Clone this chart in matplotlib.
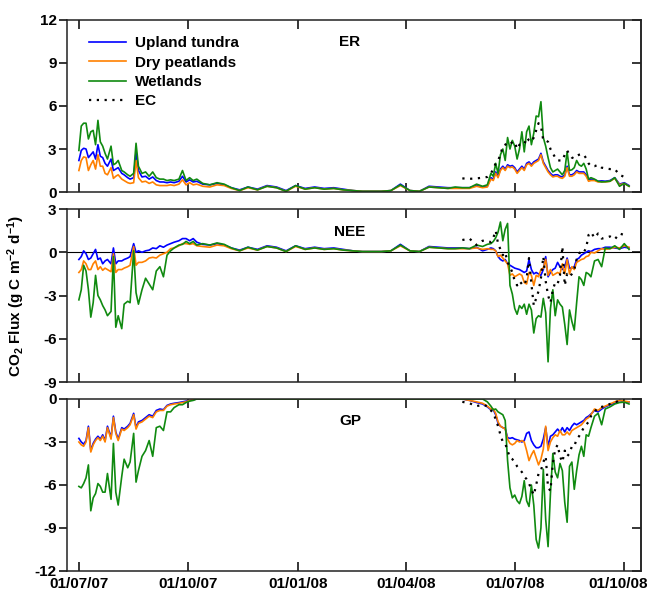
import numpy as np
import pandas as pd
import matplotlib
matplotlib.use('Agg')
import matplotlib.pyplot as plt
import matplotlib.dates as mdates
import matplotlib.transforms as mtransforms

plt.rcParams['font.family'] = 'Liberation Sans'
plt.rcParams['font.weight'] = 'bold'
plt.rcParams['axes.unicode_minus'] = False
plt.rcParams['mathtext.fontset'] = 'custom'
plt.rcParams['mathtext.rm'] = 'Liberation Sans:bold'
plt.rcParams['mathtext.default'] = 'rm'

# day offsets from 01/07/2007
start = pd.Timestamp('2007-07-01')
days_2007 = [0, 2, 4, 6, 8, 10, 12, 14, 16, 18, 20, 22, 24, 27, 29, 31, 33, 36, 38, 41,
             43, 46, 48, 50, 53, 56, 59, 62, 65, 68, 71, 74, 77, 80, 84, 87, 90, 93, 96, 99]
days_winter = [104, 110, 116, 122, 128, 135, 142, 150, 158, 166, 174, 182, 190, 198,
               206, 214, 222, 230, 238, 246, 254, 262, 270, 278, 286, 294, 302, 310]
days_2008 = [316, 322, 328, 334, 339, 343,
             346, 348, 350, 352, 354, 356, 358, 360, 362, 364, 366, 368, 370, 372, 374,
             376, 378, 380, 382, 384, 386, 388, 390, 392, 394, 396, 398, 400, 402, 404,
             406, 408, 410, 412, 414, 416, 418, 420, 422, 424, 426, 428, 430,
             433, 436, 439, 442, 446, 450, 454, 458, 462]
days_ec = [322, 328, 334, 339, 343,
           346, 348, 350, 352, 354, 356, 358, 360, 362, 364, 366, 368, 370, 372, 374,
           376, 378, 380, 382, 384, 386, 388, 390, 392, 394, 396, 398, 400, 402, 404,
           406, 408, 410, 412, 414, 416, 418, 420, 422, 424, 426, 428, 430,
           433, 436, 439, 442, 446, 450, 454, 458]
tick_dates = ['2007-07-01', '2007-10-01', '2008-01-01', '2008-04-01', '2008-07-01', '2008-10-01']

# winter fluxes (GP = 0, so ER and NEE coincide)
winter_upland = [0.55, 0.5, 0.6, 0.5, 0.3, 0.15, 0.35, 0.2, 0.45, 0.35, 0.1, 0.45, 0.25, 0.35,
                 0.25, 0.3, 0.2, 0.1, 0.05, 0.05, 0.05, 0.1, 0.55, 0.1, 0.05, 0.4, 0.35, 0.3]
winter_dry = [0.4, 0.35, 0.5, 0.45, 0.25, 0.1, 0.3, 0.15, 0.4, 0.3, 0.05, 0.4, 0.2, 0.3,
              0.2, 0.25, 0.15, 0.1, 0.05, 0.05, 0.05, 0.1, 0.45, 0.1, 0.05, 0.35, 0.3, 0.25]
winter_wet = [0.6, 0.5, 0.65, 0.55, 0.3, 0.1, 0.35, 0.15, 0.4, 0.3, 0.05, 0.45, 0.2, 0.3,
              0.2, 0.25, 0.15, 0.1, 0.05, 0.05, 0.05, 0.1, 0.5, 0.1, 0.05, 0.35, 0.3, 0.25]
winter_gp = [0, 0, 0, 0, 0, 0, 0, 0, 0, 0, 0, 0, 0, 0,
             0, 0, 0, 0, 0, 0, 0, 0, 0, 0, 0, 0, 0, 0]

# ER
er_upland = ([2.2, 2.9, 3.05, 3.0, 2.4, 2.6, 2.8, 2.3, 3.3, 2.5, 2.4, 2.0, 1.8, 2.3, 1.5, 1.6, 1.7, 1.3, 1.2, 1.0,
              0.9, 1.0, 2.8, 1.5, 1.05, 1.1, 0.9, 1.05, 0.8, 0.7, 0.7, 0.65, 0.7, 0.65, 0.75, 1.1, 0.7, 0.85, 0.7, 0.75]
             + winter_upland +
             [0.3, 0.3, 0.3, 0.45, 0.35, 0.4,
              1.0, 0.9, 1.4, 1.1, 1.6, 1.8, 1.6, 1.9, 1.8, 1.85, 1.7, 1.4, 1.6, 1.8, 1.6, 2.0, 2.1, 1.9, 2.1, 2.2,
              2.3, 2.7, 2.1, 1.8, 1.5, 1.3, 1.15, 1.2, 1.2, 1.1, 1.05, 1.2, 1.8, 1.2, 1.2, 1.3, 1.5, 1.4, 1.4, 1.4,
              1.2, 0.85, 0.9, 0.85, 0.75, 0.78, 0.75, 0.8, 1.0, 0.55, 0.65, 0.45])
er_dry = ([1.5, 2.2, 2.45, 2.4, 1.5, 1.9, 2.2, 1.6, 2.6, 1.8, 1.8, 1.3, 1.2, 1.7, 0.95, 1.1, 1.2, 0.9, 0.8, 0.65,
           0.6, 0.65, 2.2, 1.0, 0.7, 0.75, 0.6, 0.7, 0.5, 0.45, 0.45, 0.45, 0.5, 0.45, 0.55, 0.85, 0.5, 0.65, 0.5, 0.55]
          + winter_dry +
          [0.25, 0.25, 0.25, 0.4, 0.3, 0.35,
           0.9, 0.8, 1.3, 1.0, 1.5, 1.7, 1.5, 1.8, 1.7, 1.75, 1.6, 1.3, 1.5, 1.7, 1.5, 1.9, 2.0, 1.8, 2.0, 2.1,
           2.2, 2.6, 2.0, 1.7, 1.4, 1.2, 1.05, 1.1, 1.1, 1.0, 0.95, 1.1, 1.7, 1.1, 1.1, 1.2, 1.4, 1.3, 1.3, 1.3,
           1.1, 0.75, 0.8, 0.8, 0.7, 0.72, 0.7, 0.75, 0.95, 0.5, 0.6, 0.4])
er_wet = ([2.9, 4.6, 4.8, 4.8, 3.7, 4.2, 4.3, 3.3, 5.0, 3.5, 3.2, 2.7, 2.3, 3.2, 1.9, 2.0, 2.2, 1.5, 1.4, 1.2,
           1.1, 1.3, 3.4, 1.8, 1.3, 1.4, 1.1, 1.4, 1.0, 0.9, 0.9, 0.8, 0.85, 0.8, 0.9, 1.5, 0.8, 1.0, 0.8, 0.9]
          + winter_wet +
          [0.35, 0.3, 0.3, 0.55, 0.4, 0.5,
           1.3, 1.1, 2.0, 1.3, 2.6, 3.0, 2.2, 3.8, 3.0, 3.6, 3.2, 2.3, 3.0, 4.2, 2.8, 4.2, 4.6, 3.3, 4.1, 5.3,
           5.25, 6.3, 3.8, 3.2, 2.4, 1.7, 1.4, 1.5, 1.6, 1.4, 1.2, 1.5, 2.8, 1.5, 1.55, 1.7, 2.2, 1.9, 1.8, 2.0,
           1.6, 0.9, 1.0, 0.9, 0.75, 0.7, 0.72, 0.75, 1.0, 0.4, 0.6, 0.4])
er_ec = [0.95, 0.92, 0.95, 1.0, 1.05,
         1.3, 1.6, 2.0, 2.2, 2.6, 3.2, 3.3, 3.4, 3.3, 3.5, 3.5, 3.0, 3.3, 3.3, 3.3, 3.8, 3.6, 3.5, 3.8, 4.3,
         4.8, 4.6, 3.6, 3.6, 3.5, 3.0, 2.7, 2.4, 2.2, 2.2, 2.2, 2.6, 2.9, 2.6, 2.4, 2.35, 2.5, 2.6, 2.65, 2.6,
         2.35, 2.0, 1.8,
         1.8, 1.9, 1.7, 1.65, 1.6, 1.6, 1.2, 1.05]

# NEE
nee_upland = ([-0.5, -0.3, 0.1, -0.1, -0.5, -0.4, -0.1, 0.2, -0.5, -0.4, -0.8, -0.6, -0.5, -0.8, 0.3, -0.8, -0.6, -0.6, -0.5, -0.4,
               -0.3, 0.6, 0.0, 0.1, 0.0, 0.1, 0.15, 0.3, 0.25, 0.45, 0.35, 0.5, 0.6, 0.7, 0.8, 0.95, 0.95, 0.8, 0.95, 0.7]
              + winter_upland +
              [0.3, 0.3, 0.25, 0.35, 0.1, 0.2,
               0.3, 0.25, 0.1, -0.3, -0.5, -0.6, -0.5, -0.8, -0.9, -1.0, -1.1, -1.15, -1.2, -1.3, -1.4, -1.3, -0.5,
               -1.2, -1.5, -1.4, -1.5, -1.6, -1.2, -0.3, -1.7, -1.4, -1.2, -1.1, -0.7, -1.0, -1.2, -1.0, -0.4, -1.1,
               -1.1, -1.0, -0.5, -0.4, -0.2, -0.1, 0.0, 0.1, 0.05,
               0.2, 0.25, 0.25, 0.35, 0.35, 0.3, 0.25, 0.35, 0.3])
nee_dry = ([-1.4, -1.2, -0.6, -0.8, -1.2, -1.2, -0.8, -0.6, -1.2, -1.0, -1.25, -1.1, -1.2, -1.35, -0.1, -1.4, -1.2, -1.2, -1.1, -1.0,
            -0.9, 0.4, -0.9, -0.7, -0.7, -0.6, -0.4, -0.35, -0.4, -0.2, -0.1, 0.0, 0.25, 0.3, 0.45, 0.6, 0.6, 0.55, 0.6, 0.45]
           + winter_dry +
           [0.25, 0.25, 0.25, 0.3, 0.2, 0.25,
            0.2, 0.2, 0.1, -0.3, -0.2, -0.4, -0.6, -0.8, -1.6, -1.5, -1.7, -1.6, -1.5, -1.6, -2.1, -2.2, -1.4,
            -1.6, -2.3, -1.6, -1.7, -1.2, -1.1, -0.5, -1.6, -1.2, -1.6, -1.5, -1.4, -1.5, -0.8, -1.5, -0.5, -1.5,
            -1.0, -1.2, -0.7, -0.6, -0.5, -0.45, -0.3, -0.25, 0.0,
            -0.05, 0.1, 0.25, 0.2, 0.25, 0.35, 0.3, 0.45, 0.35])
nee_wet = ([-3.3, -2.6, -0.9, -1.3, -2.6, -4.5, -3.5, -1.6, -3.0, -3.3, -3.7, -4.0, -4.4, -4.1, -0.3, -5.2, -4.4, -5.3, -3.6, -3.4,
            -3.5, 0.1, -2.8, -3.6, -2.6, -1.8, -2.2, -2.6, -1.3, -1.0, -1.7, -0.2, 0.1, 0.3, 0.5, 0.55, 0.75, 0.6, 0.75, 0.5]
           + winter_wet +
           [0.25, 0.3, 0.25, 0.5, 0.4, 0.55,
            0.6, 0.75, 1.0, 1.4, 2.1, 0.8, 1.6, 2.0, -2.3, -2.9, -3.9, -4.3, -3.7, -3.9, -3.6, -4.3, -3.6,
            -4.0, -5.6, -4.6, -4.4, -4.5, -3.2, -4.2, -7.6, -3.9, -2.6, -4.4, -3.3, -3.6, -3.8, -5.0, -6.4, -4.0,
            -4.8, -5.4, -3.5, -1.7, -1.9, -2.3, -1.4, -1.5, -1.7,
            -0.6, -0.5, -1.0, 0.3, 0.25, 0.45, 0.2, 0.6, 0.2])
nee_ec = [0.85, 0.95, 0.5, 0.8, 0.8,
          0.7, 1.0, 1.5, 0.6, 0.2, -0.2, 0.0, -0.7, -1.0, -1.4, -2.0, -2.3, -2.0, -2.2, -2.3, -1.8, -0.4,
          -2.2, -3.7, -3.2, -2.7, -1.8, -0.3, -2.0, -3.0, -3.5, -2.6, -2.1, -2.2, -1.6, 0.4, -2.3, -1.5, -1.7,
          -1.5, -1.2, -0.5, -0.1, 0.1, 0.0, 0.3, 1.2, 1.4,
          1.0, 1.3, 0.95, 1.0, 1.1, 0.9, 1.3, 1.2]

# GP
gp_upland = ([-2.75, -3.0, -3.15, -2.9, -1.9, -3.6, -3.1, -2.8, -2.6, -2.8, -2.5, -2.9, -1.9, -2.7, -1.2, -2.3, -2.8, -2.0, -2.1, -1.9,
              -1.7, -1.0, -2.0, -1.6, -1.5, -1.3, -1.1, -1.2, -0.8, -0.7, -0.75, -0.45, -0.35, -0.3, -0.25, -0.2, -0.15, -0.1, -0.05, 0.0]
             + winter_gp +
             [0.0, 0.0, -0.1, -0.25, -0.35, -0.55,
              -0.75, -0.75, -1.1, -1.7, -1.9, -2.0, -2.05, -2.7, -2.75, -2.7, -2.8, -2.85, -2.9, -3.0, -2.9, -2.4,
              -2.3, -2.9, -3.2, -3.4, -3.4, -3.3, -2.8, -2.0, -3.3, -2.6, -2.5, -2.3, -2.1, -2.3, -2.0, -2.3, -2.0,
              -2.2, -1.9, -1.7, -1.8, -1.7, -1.6, -1.5, -1.3, -1.2, -1.05,
              -0.8, -0.9, -0.7, -0.55, -0.4, -0.3, -0.1, -0.2, -0.2])
gp_dry = ([-3.0, -3.2, -3.3, -3.0, -2.0, -3.7, -3.2, -2.9, -2.7, -2.9, -2.6, -3.0, -2.0, -2.8, -1.3, -2.4, -2.9, -2.1, -2.2, -2.0,
           -1.8, -1.1, -2.1, -1.7, -1.6, -1.4, -1.2, -1.3, -0.9, -0.8, -0.8, -0.5, -0.4, -0.35, -0.3, -0.25, -0.2, -0.1, -0.05, 0.0]
          + winter_gp +
          [0.0, 0.0, -0.1, -0.2, -0.3, -0.5,
           -0.7, -0.7, -1.0, -1.6, -1.9, -2.0, -2.1, -2.8, -3.1, -3.2, -3.1, -2.9, -3.0, -2.9, -3.0, -3.6,
           -4.3, -3.9, -3.6, -4.1, -4.6, -4.2, -3.5, -1.9, -3.6, -3.0, -2.7, -2.5, -2.6, -2.2, -2.5, -2.5, -2.3,
           -2.5, -2.2, -2.1, -2.0, -1.9, -1.8, -1.6, -1.4, -1.3, -1.1,
           -0.7, -0.8, -0.6, -0.5, -0.35, -0.2, -0.1, -0.15, -0.2])
gp_wet = ([-6.1, -6.2, -5.9, -5.5, -4.6, -7.8, -6.9, -6.6, -5.9, -6.1, -6.5, -6.5, -5.2, -7.0, -3.1, -6.5, -7.4, -5.4, -4.2, -4.8,
           -4.4, -2.4, -5.8, -5.0, -4.0, -3.6, -2.9, -4.0, -2.0, -1.9, -2.2, -0.9, -0.9, -0.6, -0.4, -0.4, -0.25, -0.15, -0.1, 0.0]
          + winter_gp +
          [0.0, 0.0, 0.0, 0.0, 0.0, -0.2,
           -0.5, -0.75, -0.7, -0.9, -1.0, -1.1, -1.5, -4.3, -6.2, -6.9, -6.7, -7.1, -7.3, -6.8, -5.7, -7.1,
           -7.5, -6.0, -7.4, -9.8, -10.4, -9.0, -4.9, -8.4, -10.3, -6.6, -3.8, -5.1, -5.5, -4.5, -5.0, -7.2, -8.6,
           -4.7, -4.4, -6.3, -5.0, -3.9, -3.3, -4.0, -2.5, -2.6, -2.0,
           -1.2, -1.0, -1.8, -0.7, -0.55, -0.35, -0.25, -0.22, -0.35])
gp_ec = [-0.2, -0.3, -0.5, -0.4, -0.5,
         -0.8, -1.0, -1.4, -1.9, -2.5, -3.0, -3.1, -3.6, -4.1, -4.2, -4.4, -4.7, -4.9, -5.1, -5.4, -5.6, -5.9,
         -6.3, -6.7, -6.0, -5.2, -5.0, -4.4, -4.0, -6.2, -6.4, -4.5, -3.5, -3.2, -4.0, -4.4, -3.6, -4.0, -3.8,
         -3.3, -3.3, -2.8, -2.6, -2.3, -2.0, -1.8, -1.6, -1.2,
         -0.9, -0.6, -0.55, -0.5, -0.35, -0.25, -0.1, -0.05]

t_model = start + pd.to_timedelta(days_2007 + days_winter + days_2008, unit='D')
t_ec = start + pd.to_timedelta(days_ec, unit='D')

panels = [
    ('ER', (0, 12), er_upland, er_dry, er_wet, er_ec),
    ('NEE', (-9, 3), nee_upland, nee_dry, nee_wet, nee_ec),
    ('GP', (-12, 0), gp_upland, gp_dry, gp_wet, gp_ec),
]
c_up, c_dry, c_wet = '#0000ff', '#ff8000', '#108a10'

fig = plt.figure(figsize=(6.49, 5.93), dpi=100)
rects = [[0.1032, 0.6762, 0.8844, 0.2901],
         [0.1032, 0.3558, 0.8844, 0.2917],
         [0.1032, 0.0371, 0.8844, 0.2901]]

axes = []
for i, (name, ylim, up, dry, wet, ec) in enumerate(panels):
    ax = fig.add_axes(rects[i])
    if name == 'NEE':
        ax.axhline(0, color='k', lw=0.8, zorder=1)
    ax.plot(t_model, up, color=c_up, lw=1.2, label='Upland tundra')
    ax.plot(t_model, dry, color=c_dry, lw=1.2, label='Dry peatlands')
    ax.plot(t_model, wet, color=c_wet, lw=1.2, label='Wetlands')
    ax.plot(t_ec, ec, color='k', lw=1.6, linestyle=(0, (1, 2.5)), label='EC')

    ax.set_ylim(ylim)
    yt = np.arange(ylim[0], ylim[1] + 1, 3)
    ax.set_yticks(yt)
    ax.set_xlim(start - pd.Timedelta(days=10), start + pd.Timedelta(days=472))
    ax.set_xticks(pd.to_datetime(tick_dates))
    ax.xaxis.set_major_formatter(mdates.DateFormatter('%d/%m/%y'))
    ax.tick_params(axis='y', direction='out', length=6, width=1.1, pad=1.5, labelsize=11)
    ax.tick_params(axis='x', direction='in', top=True, length=6.5, width=1.1, pad=4.5,
                   labelsize=11, labelbottom=(i == 2))
    for s in ax.spines.values():
        s.set_linewidth(1.1)
        s.set_color('#222222')
    sec = ax.secondary_yaxis('right')
    sec.set_yticks(yt)
    sec.tick_params(direction='in', length=6.5, width=1.1, labelright=False)
    sec.spines['right'].set_linewidth(1.1)
    sec.spines['right'].set_color('#222222')

    ax.text(0.493, 0.87, name, transform=ax.transAxes, ha='center', va='center',
            fontsize=11, fontweight='bold')
    axes.append(ax)

axes[0].legend(loc='upper left', bbox_to_anchor=(0.028, 0.94), frameon=False,
               fontsize=11, handlelength=2.4, handletextpad=0.6, labelspacing=0.35,
               borderaxespad=0)
axes[1].set_ylabel(r'CO$_2$ Flux (g C m$^{-2}$ d$^{-1}$)', fontsize=11, fontweight='bold')
axes[1].yaxis.set_label_coords(-0.07, 0.5)

# keep the last date label inside the canvas
last = axes[2].get_xticklabels()[-1]
last.set_transform(last.get_transform() + mtransforms.ScaledTranslation(-6 / 100, 0, fig.dpi_scale_trans))

fig.savefig('out.png', dpi=100)
